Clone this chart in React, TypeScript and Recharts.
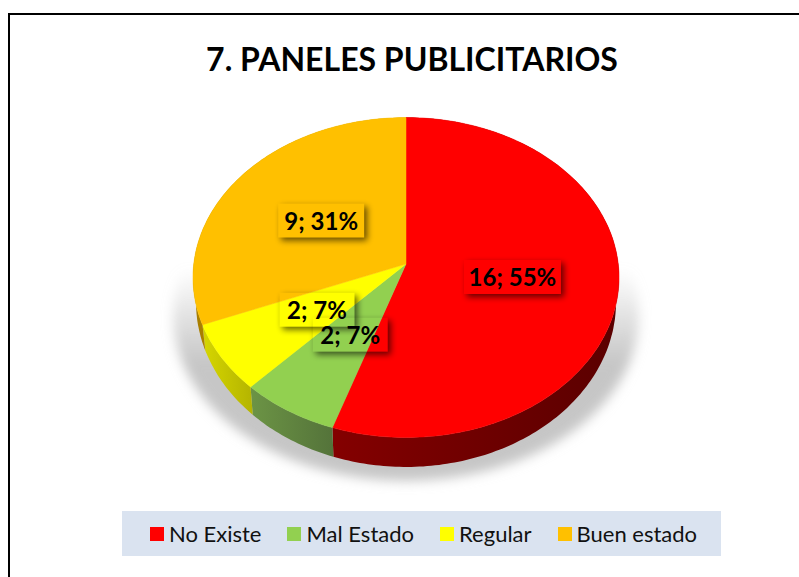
import { PieChart, Pie, Legend } from 'recharts';

const CATEGORIES = ['No Existe', 'Mal Estado', 'Regular', 'Buen estado'];
const VALUES = [16, 2, 2, 9];
const COLORS = ['#FF0000', '#92D050', '#FFFF00', '#FFC000'];
const WALL_LIGHT = ['#840000', '#6C9445', '#D6D600', '#C89600'];
const WALL_DARK = ['#5A0000', '#54733A', '#B4B400', '#A87E00'];

const pieData = CATEGORIES.map((name, i) => ({ name, value: VALUES[i], fill: COLORS[i] }));

// the hub sits above the middle of the disc, a circle seen in perspective
const TILT = 0.084;
const RIM_Y_SHIFT = 13.5;
const SQUASH = 0.751;

function project(angle: number, f: number) {
  const t = ((90 - angle) * Math.PI) / 180;
  const u = f * Math.sin(t);
  const v = f * Math.cos(t);
  const d = 1 + TILT * v;
  return { x: (u * Math.sqrt(1 - TILT * TILT)) / d, y: (v + TILT) / d };
}

function rimPoints(p: any, rx: number, ry: number, midY: number) {
  const pts: string[] = [];
  const steps = Math.max(2, Math.ceil(Math.abs(p.endAngle - p.startAngle)));
  for (let i = 0; i <= steps; i++) {
    const a = p.startAngle + ((p.endAngle - p.startAngle) * i) / steps;
    const q = project(a, 1);
    pts.push(`${(p.cx + rx * q.x).toFixed(1)} ${(midY - ry * q.y).toFixed(1)}`);
  }
  return pts;
}

function PieSlice(props: any) {
  const { cx, cy, outerRadius, fill, index } = props;
  const rx = outerRadius;
  const ry = outerRadius * SQUASH;
  const midY = cy + RIM_Y_SHIFT;
  const top = rimPoints(props, rx, ry, midY);
  const bottom = rimPoints(props, rx * 0.986, ry * 1.031, midY + 24.5);
  return (
    <g>
      {index === 0 && (
        <g>
          <defs>
            <linearGradient id="floorFade" gradientUnits="userSpaceOnUse" x1="0" y1={cy + 5} x2="0" y2={cy + 100}>
              <stop offset="0" stopColor="#c6c6c6" stopOpacity={0} />
              <stop offset="1" stopColor="#c6c6c6" stopOpacity={1} />
            </linearGradient>
            <filter id="floorBlur" x="-10%" y="-10%" width="120%" height="120%">
              <feGaussianBlur stdDeviation="6" />
            </filter>
            <filter id="labelShadow" x="-30%" y="-50%" width="160%" height="200%">
              <feGaussianBlur in="SourceAlpha" stdDeviation="3" result="b" />
              <feOffset in="b" dx="3" dy="3" result="o" />
              <feComponentTransfer in="o" result="s">
                <feFuncA type="linear" slope="0.6" />
              </feComponentTransfer>
              <feComposite in="s" in2="SourceAlpha" operator="out" />
            </filter>
          </defs>
          <ellipse
            cx={cx}
            cy={cy + 52}
            rx={rx + 20}
            ry={ry + 5}
            fill="url(#floorFade)"
            filter="url(#floorBlur)"
          />
        </g>
      )}
      <defs>
        <linearGradient id={`wall${index}`} x1="0" y1="0" x2="1" y2="0">
          <stop offset="0" stopColor={index === 3 ? WALL_DARK[index] : WALL_LIGHT[index]} />
          <stop offset="1" stopColor={index === 3 ? WALL_LIGHT[index] : WALL_DARK[index]} />
        </linearGradient>
      </defs>
      <path
        d={`M${top.join(' L')} L${[...bottom].reverse().join(' L')} Z`}
        fill={`url(#wall${index})`}
      />
      <path d={`M${cx} ${cy} L${top.join(' L')} Z`} fill={fill} stroke={fill} strokeWidth={0.5} />
    </g>
  );
}

function SliceLabel(props: any) {
  const { cx, cy, outerRadius, midAngle, value, percent } = props;
  const q = project(midAngle, 0.5);
  const x = cx + outerRadius * q.x + 1;
  const y = cy + RIM_Y_SHIFT - outerRadius * SQUASH * q.y;
  const text = `${value}; ${Math.round(percent * 100)}%`;
  const w = text.length * 11 + 20;
  const h = 34;
  return (
    <g>
      <rect x={x - w / 2} y={y - h / 2} width={w} height={h} fill="#000" filter="url(#labelShadow)" />
      <text
        x={x}
        y={y}
        textAnchor="middle"
        dominantBaseline="central"
        fontFamily="Lato"
        fontWeight={700}
        fontSize={24}
        fill="#000"
      >
        {text}
      </text>
    </g>
  );
}

function LegendBox({ payload }: any) {
  return (
    <div
      style={{
        width: 599,
        height: 45,
        background: '#DAE3F0',
        display: 'flex',
        alignItems: 'center',
        paddingLeft: 28,
        boxSizing: 'border-box',
        fontFamily: 'Lato',
        fontSize: 22,
        color: '#111',
        whiteSpace: 'nowrap',
      }}
    >
      {(payload || []).map((item: any) => (
        <div key={item.value} style={{ display: 'flex', alignItems: 'center', marginRight: 26 }}>
          <span style={{ width: 14, height: 14, background: item.color, marginRight: 5 }} />
          <span>{item.value}</span>
        </div>
      ))}
    </div>
  );
}

export default function App() {
  return (
    <div style={{ position: 'absolute', left: 0, top: 0, width: 799, height: 577, background: '#fff', overflow: 'hidden' }}>
      <div
        style={{
          position: 'absolute',
          left: 8,
          top: 13,
          right: 0,
          bottom: 0,
          borderTop: '2px solid #000',
          borderLeft: '2px solid #000',
          boxSizing: 'border-box',
        }}
      />
      <div
        style={{
          position: 'absolute',
          left: 0,
          width: 824,
          top: 39,
          textAlign: 'center',
          fontFamily: 'Lato',
          fontWeight: 700,
          fontSize: 32,
          color: '#000',
        }}
      >
        7. PANELES PUBLICITARIOS
      </div>
      <PieChart width={799} height={577} margin={{ top: 0, right: 0, bottom: 0, left: 0 }}>
        <Pie
          data={pieData}
          dataKey="value"
          nameKey="name"
          cx={406}
          cy={264}
          outerRadius={213}
          startAngle={90}
          endAngle={-270}
          stroke="none"
          shape={PieSlice}
          label={SliceLabel}
          labelLine={false}
          isAnimationActive={false}
        />
        <Legend
          content={LegendBox}
          itemSorter={null as any}
          wrapperStyle={{ left: 122, top: 511, width: 599, height: 45, bottom: 'auto' }}
        />
      </PieChart>
    </div>
  );
}
